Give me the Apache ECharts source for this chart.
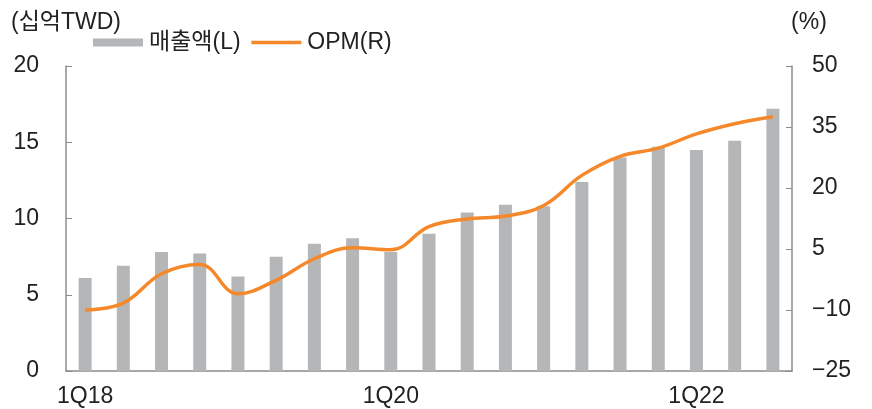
<!DOCTYPE html>
<html>
<head>
<meta charset="utf-8">
<script src="https://cdn.jsdelivr.net/npm/echarts@6/dist/echarts.min.js"></script>
<style>
  html, body { margin: 0; padding: 0; background: #fff; }
  #chart { width: 872px; height: 409px; }
</style>
</head>
<body>
<div id="chart"></div>
<script>
const quarters = ['1Q18','2Q18','3Q18','4Q18','1Q19','2Q19','3Q19','4Q19','1Q20','2Q20','3Q20','4Q20','1Q21','2Q21','3Q21','4Q21','1Q22','2Q22','3Q22']
const sales = [6.1, 6.9, 7.8, 7.7, 6.2, 7.5, 8.35, 8.7, 7.8, 9.0, 10.4, 10.9, 10.8, 12.4, 14.0, 14.7, 14.5, 15.1, 17.2]
const opm = [-10, -8.3, -1.1, 1.2, -6, -2.7, 2.6, 5.3, 4.8, 10.5, 12.4, 13.1, 15.7, 23.1, 27.8, 29.8, 33.3, 35.8, 37.5]

const font = '"Liberation Sans", "Noto Sans CJK KR", sans-serif'
const txt = '#222222'
const axisGray = '#8c8c8c'
const barColor = '#b5b6b8'
const lineColor = '#f5882a'
const minus = v => (v < 0 ? '\u2212' + Math.abs(v) : '' + v)

const chart = echarts.init(document.getElementById('chart'))
chart.setOption({
  animation: false,
  textStyle: { fontFamily: font },
  legend: {
    left: 88, top: 26, itemGap: 9, itemWidth: 50, itemHeight: 8,
    textStyle: { color: txt, fontSize: 23, fontFamily: font, padding: [0, 0, 0, 1] },
    data: [
      { name: '매출액(L)', icon: 'rect' },
      { name: 'OPM(R)', itemStyle: { opacity: 0 }, lineStyle: { width: 3.5, color: lineColor } }
    ]
  },
  grid: { left: 66, right: 80, top: 66, bottom: 38 },
  xAxis: {
    type: 'category', data: quarters,
    axisLine: { lineStyle: { color: axisGray, width: 1.5 } },
    axisTick: { inside: true, length: 6, lineStyle: { color: axisGray } },
    axisLabel: { interval: 7, color: txt, fontSize: 23, margin: 14 }
  },
  yAxis: [
    {
      type: 'value', min: 0, max: 20, interval: 5,
      name: '(십억TWD)', nameLocation: 'end', nameGap: 32,
      nameTextStyle: { color: txt, fontSize: 23, align: 'center' },
      axisLine: { show: true, lineStyle: { color: axisGray, width: 1.5 } },
      axisTick: { show: true, inside: true, length: 6, lineStyle: { color: axisGray } },
      axisLabel: { color: txt, fontSize: 23, margin: 27 },
      splitLine: { show: false }
    },
    {
      type: 'value', min: -25, max: 50, interval: 15,
      name: '(%)', nameLocation: 'end', nameGap: 32,
      nameTextStyle: { color: txt, fontSize: 23, align: 'center', padding: [0, 0, 0, 34] },
      axisLine: { show: true, lineStyle: { color: axisGray, width: 1.5 } },
      axisTick: { show: true, inside: true, length: 6, lineStyle: { color: axisGray } },
      axisLabel: { color: txt, fontSize: 23, margin: 20, formatter: minus },
      splitLine: { show: false }
    }
  ],
  series: [
    {
      name: '매출액(L)', type: 'bar', yAxisIndex: 0, data: sales,
      barWidth: 13, itemStyle: { color: barColor }
    },
    {
      name: 'OPM(R)', type: 'line', yAxisIndex: 1, data: opm,
      smooth: 0.4, symbol: 'none',
      lineStyle: { color: lineColor, width: 3.5 }, itemStyle: { color: lineColor }
    }
  ]
})
</script>
</body>
</html>
